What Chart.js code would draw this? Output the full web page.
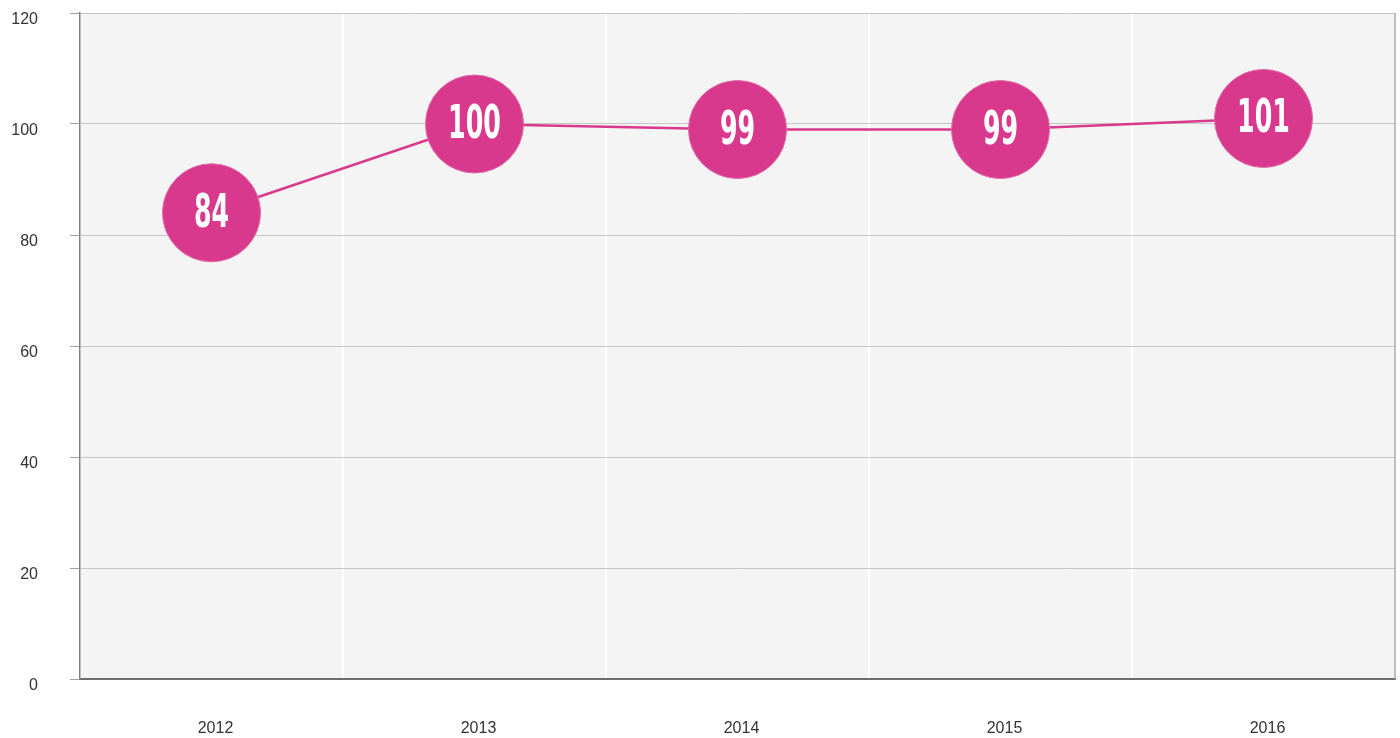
<!DOCTYPE html>
<html>
<head>
<meta charset="utf-8">
<script src="https://cdn.jsdelivr.net/npm/chart.js@4/dist/chart.umd.min.js"></script>
<style>
  html, body { margin: 0; padding: 0; background: #fff; }
  #chart { display: block; }
</style>
</head>
<body>
<canvas id="chart" width="1400" height="738"></canvas>
<script>
// yearly index values
const years = ['2012', '2013', '2014', '2015', '2016'];
const values = [84, 100, 99, 99, 101];
const yTicks = [0, 20, 40, 60, 80, 100, 120];

const pink = '#d8398c';

// light grey plot background plus the thin right-hand frame
const plotFrame = {
  id: 'plotFrame',
  beforeDraw(chart) {
    const { ctx, chartArea: a } = chart;
    ctx.save();
    ctx.fillStyle = '#f4f4f4';
    ctx.fillRect(a.left, a.top, a.right - a.left, a.bottom - a.top);
    ctx.restore();
  },
  afterDatasetsDraw(chart) {
    const { ctx, chartArea: a } = chart;
    ctx.save();
    ctx.strokeStyle = '#a8a8a8';
    ctx.lineWidth = 1.5;
    ctx.beginPath();
    ctx.moveTo(a.right, a.top);
    ctx.lineTo(a.right, a.bottom);
    ctx.stroke();
    ctx.restore();
  }
};

// condensed white numbers inside each bubble
const bubbleLabels = {
  id: 'bubbleLabels',
  afterDatasetsDraw(chart) {
    const { ctx } = chart;
    const meta = chart.getDatasetMeta(0);
    ctx.save();
    ctx.fillStyle = '#ffffff';
    ctx.textAlign = 'center';
    ctx.textBaseline = 'middle';
    ctx.font = 'bold 46px "DejaVu Sans"';
    meta.data.forEach((pt, i) => {
      ctx.save();
      ctx.translate(pt.x, pt.y + 2);
      ctx.scale(0.55, 1);
      ctx.fillText(String(values[i]), 0, 0);
      ctx.restore();
    });
    ctx.restore();
  }
};

new Chart(document.getElementById('chart'), {
  type: 'line',
  data: {
    labels: years,
    datasets: [{
      data: values,
      borderColor: pink,
      borderWidth: 2.5,
      pointRadius: 49,
      pointHoverRadius: 49,
      pointBackgroundColor: pink,
      pointBorderColor: '#e06aa8',
      pointBorderWidth: 1,
      tension: 0,
      clip: false
    }]
  },
  options: {
    responsive: false,
    animation: false,
    events: [],
    layout: { autoPadding: false, padding: { top: 13, right: 5, left: 0, bottom: 0 } },
    plugins: {
      legend: { display: false },
      tooltip: { enabled: false }
    },
    scales: {
      x: {
        offset: true,
        grid: {
          offset: true,
          color: '#ffffff',
          lineWidth: 2,
          drawTicks: false
        },
        border: { color: '#6e6e6e', width: 2 },
        ticks: {
          color: '#333',
          font: { family: 'Liberation Sans, Arial', size: 16 },
          padding: 40,
          labelOffset: 4
        },
        afterFit(scale) {
          scale.height = 59;
          scale.paddingLeft = 0;
          scale.paddingRight = 0;
        }
      },
      y: {
        min: 0,
        max: 120,
        afterBuildTicks(scale) {
          scale.ticks = yTicks.map(v => ({ value: v }));
        },
        grid: {
          color: '#c6c6c6',
          lineWidth: 1,
          tickLength: 10,
          tickColor: '#a0a0a0'
        },
        border: { color: '#808080', width: 1.5 },
        ticks: {
          color: '#333',
          font: { family: 'Liberation Sans, Arial', size: 16 },
          padding: 32,
          labelOffset: 7
        },
        afterFit(scale) {
          scale.width = 80;
          scale.paddingTop = 0;
          scale.paddingBottom = 0;
        }
      }
    }
  },
  plugins: [plotFrame, bubbleLabels]
});
</script>
</body>
</html>
